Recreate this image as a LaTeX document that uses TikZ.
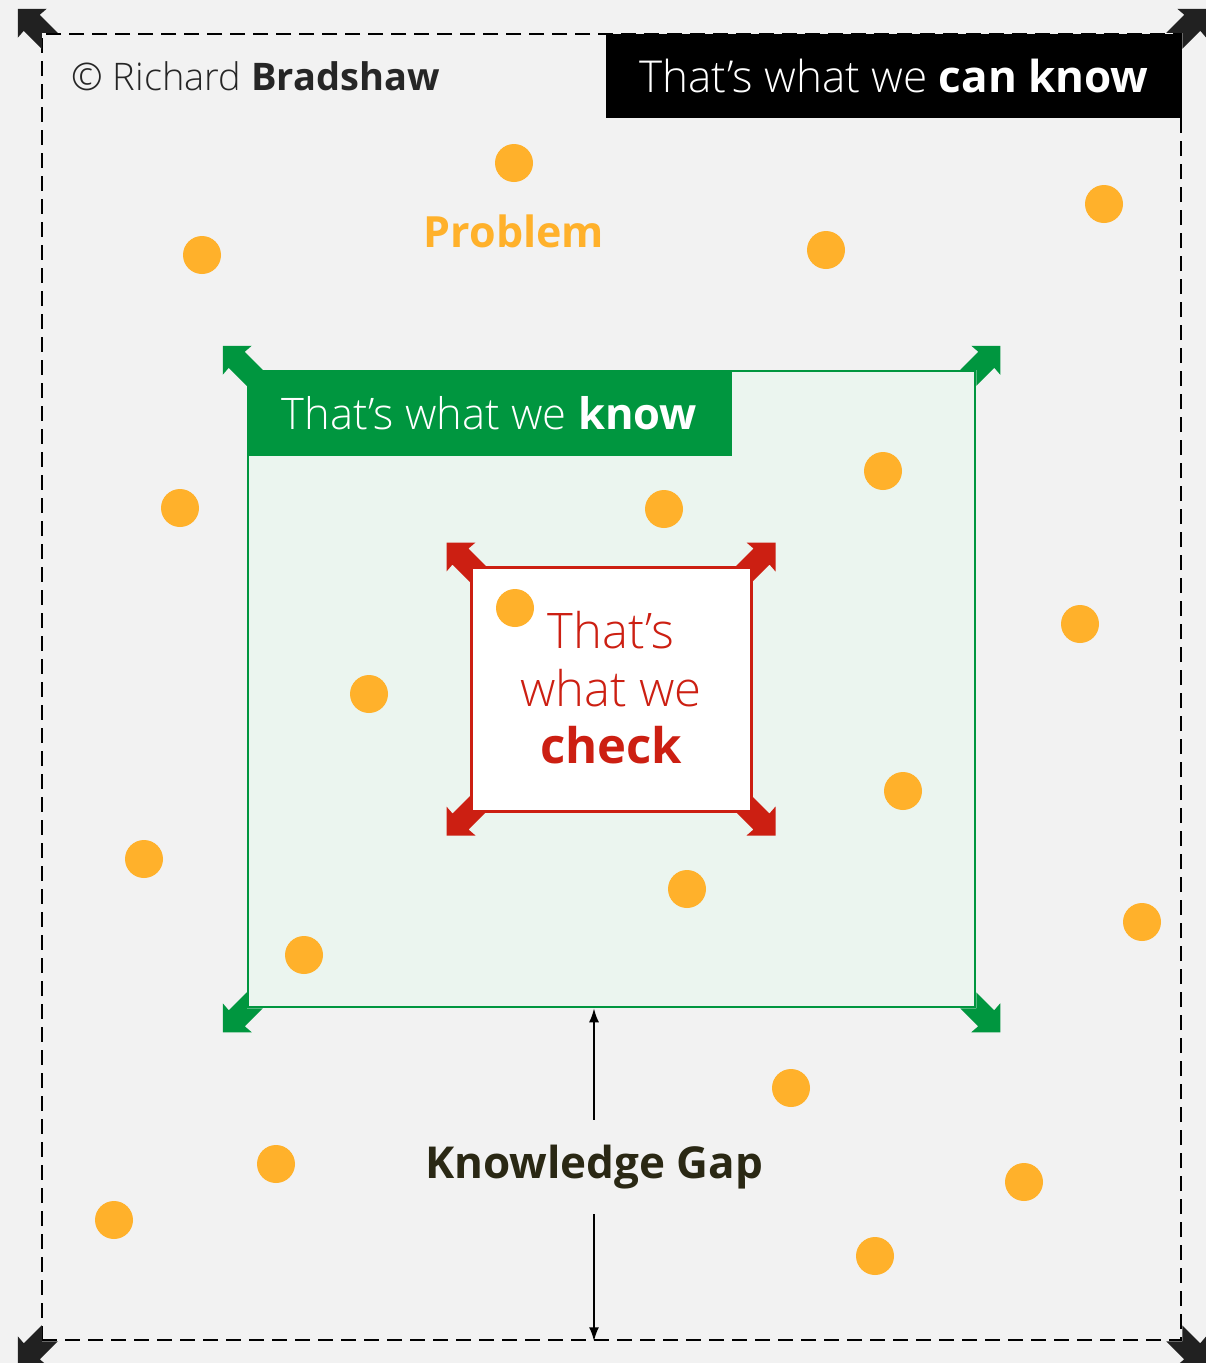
\documentclass[tikz,border=0pt]{standalone}
\usepackage{fontspec}
\setmainfont{Open Sans}
\newfontfamily\lightf{Open Sans Light}
\newcommand\xbf{\normalfont\bfseries}
\usetikzlibrary{arrows.meta}
\definecolor{bg}{HTML}{F2F2F2}
\definecolor{dot}{HTML}{FFB12B}
\definecolor{grn}{HTML}{00963F}
\definecolor{lgrn}{HTML}{EBF5EF}
\definecolor{rd}{HTML}{CC1F12}
\definecolor{dk}{HTML}{262626}
\definecolor{kg}{HTML}{2A2814}
\tikzset{
  ball/.style={circle,fill=dot,minimum size=38pt,inner sep=0pt},
  chead/.pic={\fill (0,0) -- (29,0) -- (22,6) -- (40,24) -- (24,24) -- (24,40) -- (6,22) -- (0,29) -- cycle;},
  gaparrow/.style={line width=2pt,-{Latex[length=14pt,width=10pt]}},
}
\begin{document}
\begin{tikzpicture}[x=1pt,y=-1pt]
\useasboundingbox (0,0) rectangle (1206,1363);
\fill[bg] (0,0) rectangle (1206,1363);
% outer frame
\node[draw=black,dashed,dash pattern=on 15pt off 8pt,line width=2.5pt,minimum width=1139pt,minimum height=1306pt,inner sep=0pt] (outer) at (611.5,687) {};
\path (outer.north west) ++(-23,-24) pic[black!87] {chead};
\path (outer.north east) ++(24,-24) pic[black!87,xscale=-1] {chead};
\path (outer.south west) ++(-23,24) pic[black!87,yscale=-1] {chead};
\path (outer.south east) ++(24,24) pic[black!87,xscale=-1,yscale=-1] {chead};
% can know box
\node[fill=black,minimum width=576pt,minimum height=84pt,inner sep=0pt,text=white] (canknow) at (894,76) {\fontsize{44}{52}\selectfont\lightf That’s what we \xbf can know};
\node[text=dk,anchor=west] (copy) at (68,76) {\fontsize{38}{46}\selectfont\lightf © Richard \xbf Bradshaw};
\node[text=dot] (problem) at (514,231) {\fontsize{43}{50}\selectfont\xbf Problem};
% green box
\node[draw=grn,fill=lgrn,line width=2.5pt,minimum width=727pt,minimum height=636pt,inner sep=0pt] (green) at (611.5,689) {};
\path (green.north west) ++(-24,-24) pic[grn] {chead};
\path (green.north east) ++(24,-24) pic[grn,xscale=-1] {chead};
\path (green.south west) ++(-24,24) pic[grn,yscale=-1] {chead};
\path (green.south east) ++(24,24) pic[grn,xscale=-1,yscale=-1] {chead};
\node[fill=grn,minimum width=485pt,minimum height=86pt,inner sep=0pt,text=white,anchor=north west] (know) at (green.north west) {\fontsize{43.5}{52}\selectfont\lightf That’s what we \xbf know};
% red box
\node[draw=rd,fill=white,line width=3pt,minimum width=280pt,minimum height=244pt,inner sep=0pt] (red) at (611,689) {};
\path (red.north west) ++(-23,-23) pic[rd] {chead};
\path (red.north east) ++(23,-23) pic[rd,xscale=-1] {chead};
\path (red.south west) ++(-23,23) pic[rd,yscale=-1] {chead};
\path (red.south east) ++(23,23) pic[rd,xscale=-1,yscale=-1] {chead};
\node[text=rd,align=center,font=\fontsize{49}{57.5}\selectfont] (check) at (611,688) {\lightf That’s\\ \lightf what we\\ \xbf check};
% dots
\foreach \x/\y [count=\i] in {514/163,202/255,826/250,1104/204,180/508,664/509,883/471,1080/624,369/694,515/608,903/791,144/859,687/889,1142/922,304/955,791/1088,276/1164,1024/1182,114/1220,875/1256}
  \node[ball] (d\i) at (\x,\y) {};
% knowledge gap
\node[text=kg,minimum height=94pt,inner sep=0pt] (gap) at (594,1167) {\fontsize{44}{52}\selectfont\xbf Knowledge Gap};
\draw[gaparrow] (gap.north) -- (gap.north |- green.south);
\draw[gaparrow] (gap.south) -- (gap.south |- outer.south);
\end{tikzpicture}
\end{document}
